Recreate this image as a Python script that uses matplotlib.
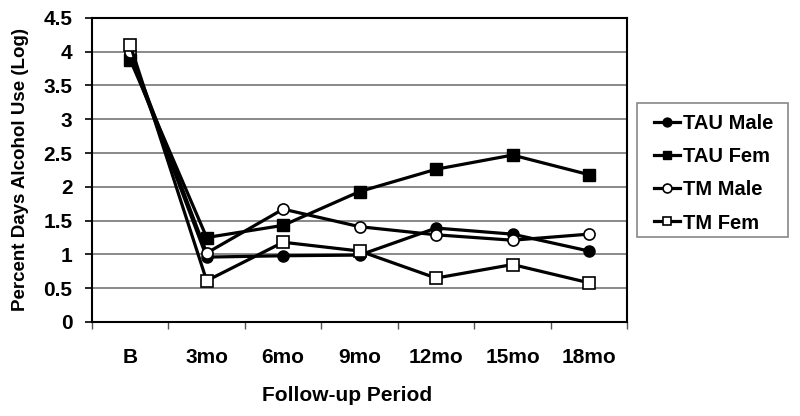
import matplotlib.pyplot as plt
from matplotlib.patches import Rectangle
import numpy as np

plt.rcParams['font.family'] = ['Liberation Sans', 'DejaVu Sans']
plt.rcParams['font.weight'] = 'bold'

periods = ['B', '3mo', '6mo', '9mo', '12mo', '15mo', '18mo']
tau_male = [3.95, 0.96, 0.98, 0.99, 1.39, 1.30, 1.05]
tau_fem = [3.88, 1.25, 1.43, 1.93, 2.26, 2.47, 2.18]
tm_male = [4.00, 1.02, 1.67, 1.41, 1.29, 1.21, 1.30]
tm_fem = [4.10, 0.61, 1.18, 1.05, 0.65, 0.85, 0.58]

fig = plt.figure(figsize=(8, 4.16), dpi=100)
ax = fig.add_axes([0.115, 0.226, 0.669, 0.731])

x = np.arange(len(periods))
ax.plot(x, tau_male, color='black', lw=2.3, marker='o', ms=8, mfc='black', mec='black', label='TAU Male')
ax.plot(x, tau_fem, color='black', lw=2.3, marker='s', ms=8, mfc='black', mec='black', label='TAU Fem')
ax.plot(x, tm_male, color='black', lw=2.3, marker='o', ms=8, mfc='white', mec='black', mew=1.2, label='TM Male')
ax.plot(x, tm_fem, color='black', lw=2.3, marker='s', ms=8, mfc='white', mec='black', mew=1.2, label='TM Fem')

ax.set_xlim(-0.5, len(periods) - 0.5)
ax.set_ylim(0, 4.5)
yt = np.arange(0, 4.51, 0.5)
ax.set_yticks(yt)
ax.set_yticklabels(['0', '0.5', '1', '1.5', '2', '2.5', '3', '3.5', '4', '4.5'], fontsize=15, fontweight='bold')
ax.yaxis.grid(True, color='#808080', lw=1.3)
ax.set_axisbelow(True)

# category labels centred, tick marks on the boundaries
ax.set_xticks(x)
ax.set_xticklabels(periods, fontsize=15, fontweight='bold')
ax.tick_params(axis='x', length=0, pad=19)
ax.set_xticks(np.arange(-0.5, len(periods)), minor=True)
ax.tick_params(axis='x', which='minor', length=5, width=1, color='#555555', direction='out')
ax.tick_params(axis='y', length=5, width=1.2, direction='out', pad=9)

for s in ax.spines.values():
    s.set_color('black')
    s.set_linewidth(1.5)

ax.set_xlabel('Follow-up Period', fontsize=15, fontweight='bold')
ax.xaxis.set_label_coords(0.477, -0.211)
ax.set_ylabel('Percent Days Alcohol Use (Log)', fontsize=13.5, fontweight='bold')
ax.yaxis.set_label_coords(-0.118, 0.5)

# legend box drawn separately so the padding can match
fig.patches.append(Rectangle((637 / 800, 1 - 237 / 416), 151 / 800, 134 / 416,
                             transform=fig.transFigure, facecolor='white',
                             edgecolor='#888888', lw=1.2))
leg = fig.legend(loc='upper left', bbox_to_anchor=(0.804, 0.752), frameon=False,
                 prop={'size': 14.5, 'weight': 'bold'}, handlelength=1.3,
                 handletextpad=0.15, labelspacing=0.7, borderpad=0.55, borderaxespad=0,
                 markerscale=0.8)

fig.savefig('out.png', dpi=100)
